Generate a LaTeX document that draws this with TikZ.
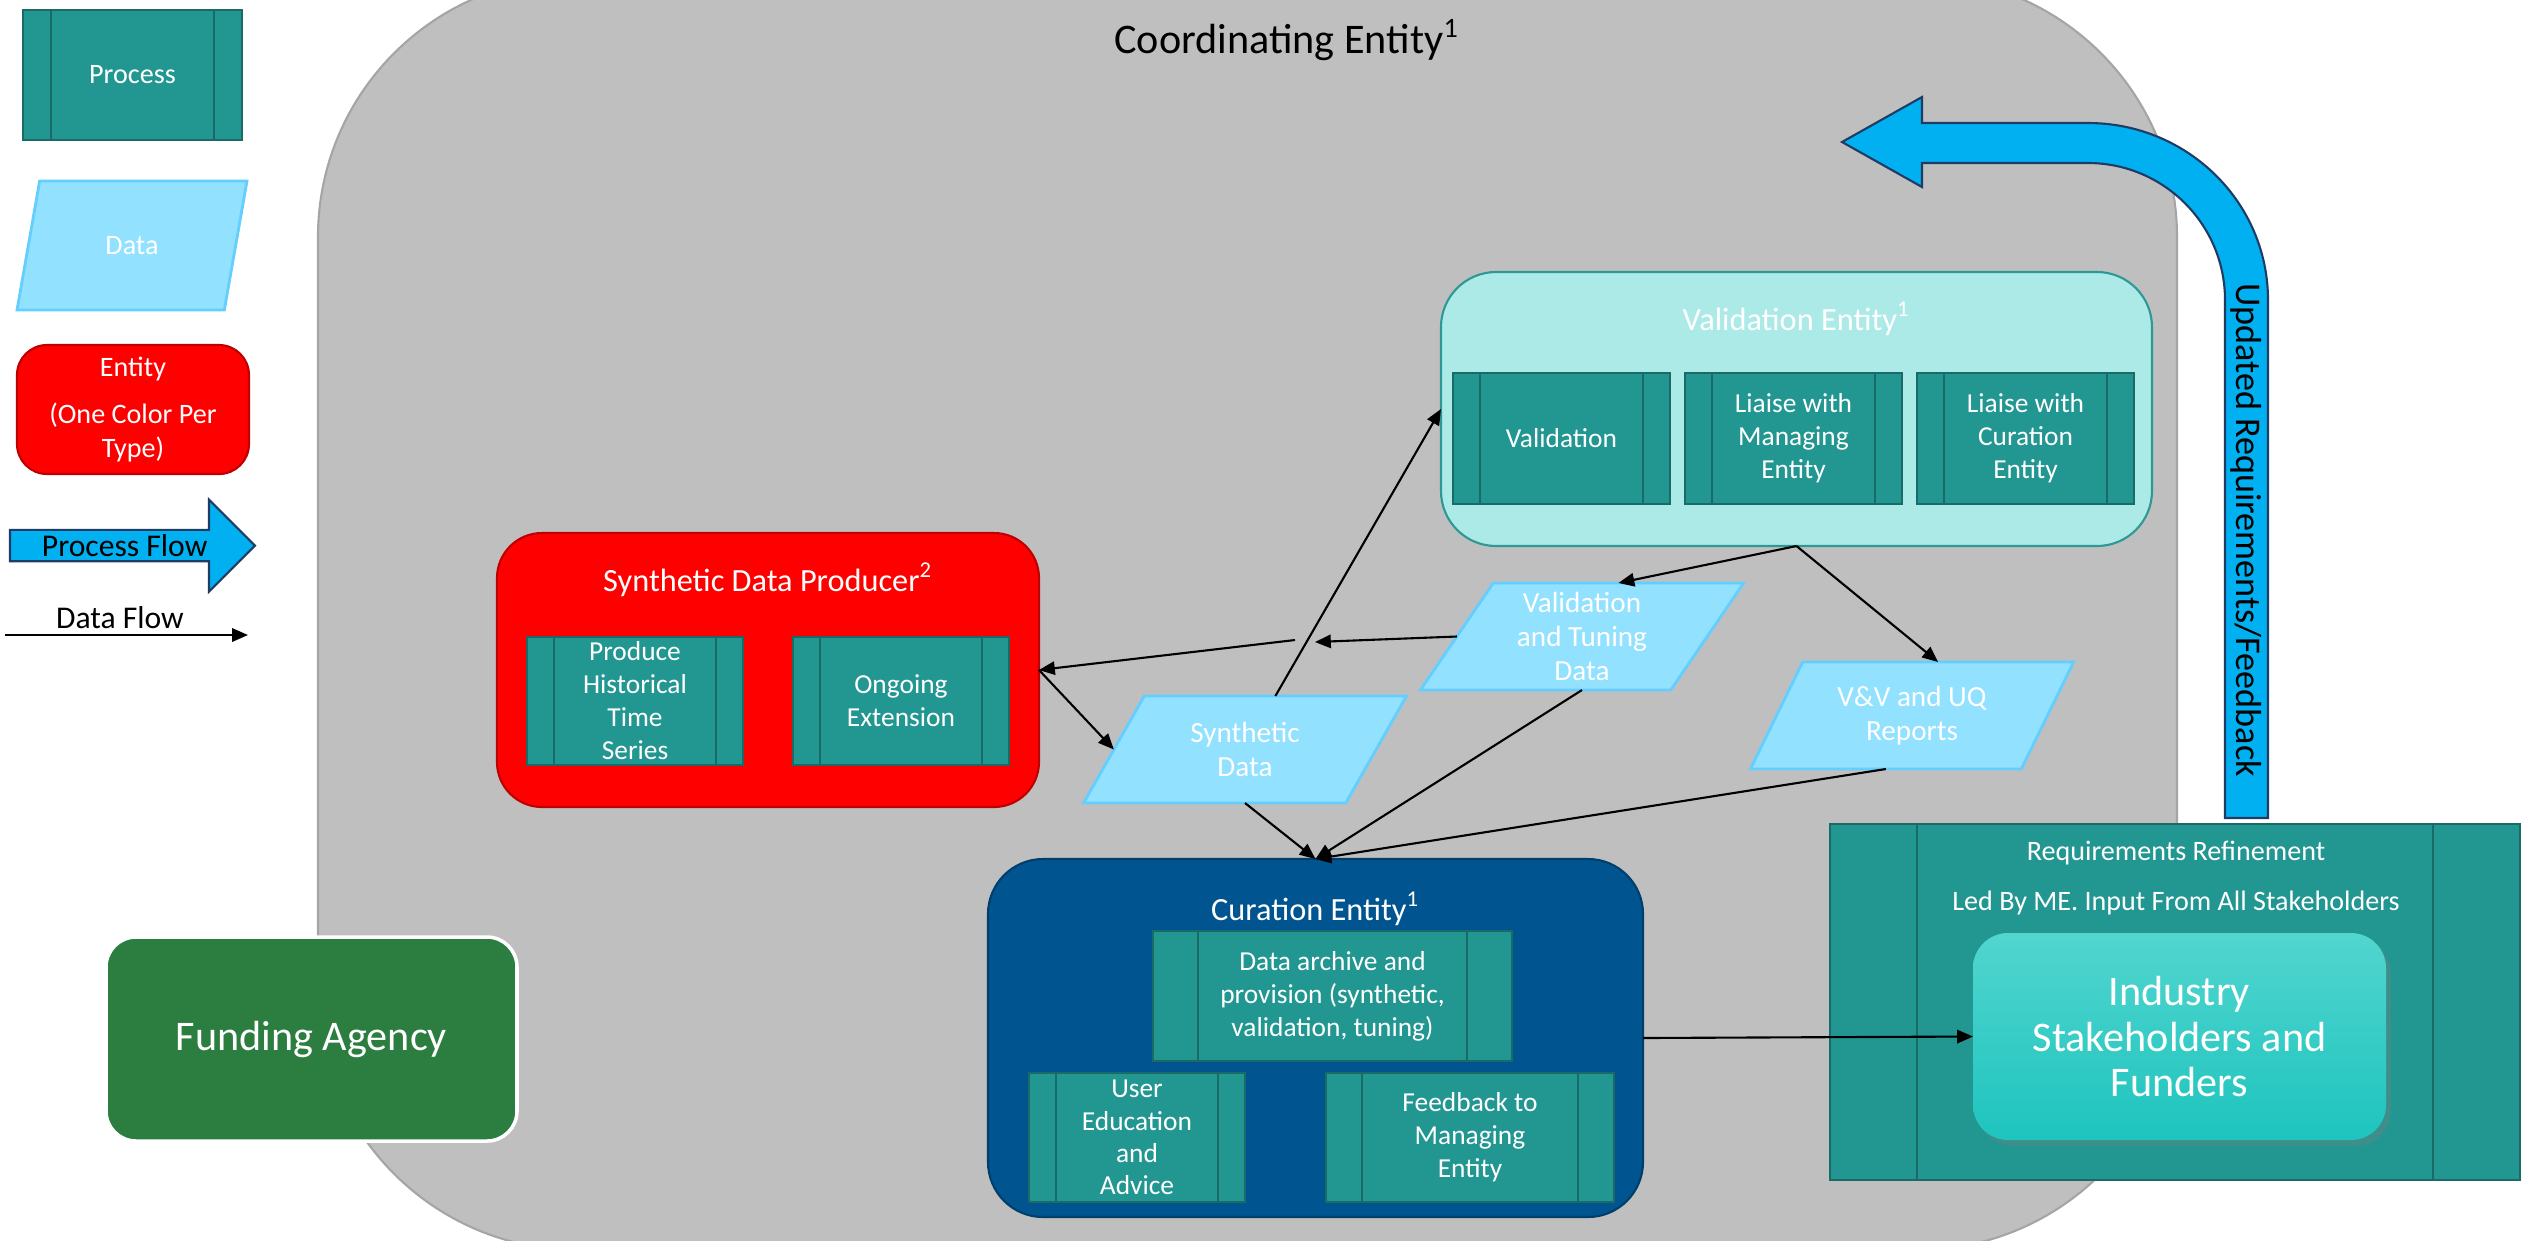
\documentclass[tikz,border=0pt]{standalone}
\usepackage{fontspec}
\setmainfont{Carlito}
\usetikzlibrary{positioning,calc,shapes.geometric,shapes.arrows,arrows.meta,shadows}
\definecolor{coordfill}{RGB}{191,191,191}
\definecolor{coordedge}{RGB}{165,165,165}
\definecolor{procfill}{RGB}{34,150,145}
\definecolor{procedge}{RGB}{26,106,104}
\definecolor{datafill}{RGB}{146,225,255}
\definecolor{dataedge}{RGB}{100,206,255}
\definecolor{prodred}{RGB}{255,0,0}
\definecolor{valfill}{RGB}{172,234,232}
\definecolor{valedge}{RGB}{46,152,149}
\definecolor{curfill}{RGB}{0,84,144}
\definecolor{fundgreen}{RGB}{43,125,64}
\definecolor{flowblue}{RGB}{0,176,240}
\definecolor{flowedge}{RGB}{30,60,100}
\definecolor{indtop}{RGB}{82,213,207}
\definecolor{indbot}{RGB}{30,196,190}
\newcommand\proctext{\fontsize{7.8pt}{9.4pt}\selectfont}
\newcommand\datatext{\fontsize{8.3pt}{9.6pt}\selectfont}
\newcommand\legtext{\fontsize{8pt}{9.6pt}\selectfont}
\newcommand\titletext{\fontsize{9.2pt}{11pt}\selectfont}
\newcommand\flowtext{\fontsize{9pt}{11pt}\selectfont}
\newcommand\bigtext{\fontsize{12pt}{13pt}\selectfont}

\begin{document}
\begin{tikzpicture}[every node/.style={inner sep=0pt, outer sep=0pt},
  process/.style={draw=procedge, fill=procfill, line width=0.6pt, text=white, align=center, font=\proctext,
    path picture={\draw[procedge, line width=0.6pt]
      ([xshift=#1]path picture bounding box.north west) -- ([xshift=#1]path picture bounding box.south west)
      ([xshift=-#1]path picture bounding box.north east) -- ([xshift=-#1]path picture bounding box.south east);}},
  process/.default=2.7mm,
  data/.style={trapezium, trapezium left angle=58.7, trapezium right angle=121.3, trapezium stretches=true,
    draw=dataedge, fill=datafill, line width=0.8pt, text=white, align=center, font=\datatext,
    minimum width=32.4mm, minimum height=10.7mm},
  entity/.style={draw=#1!75!black, fill=#1, line width=0.6pt, rounded corners=5.5mm},
  enttitle/.style={text=white, font=\titletext},
  flow/.style={-{Triangle[length=4.5pt,width=3.8pt]}, line width=0.6pt},
  bigflow/.style={draw=flowedge, fill=flowblue, line width=0.6pt}]
  \useasboundingbox (0,0) rectangle (25.22,-12.40);
  \clip (0,0) rectangle (25.22,-12.40);
  \node[draw=coordedge, fill=coordfill, line width=0.6pt, rounded corners=26mm,
    minimum width=185.9mm, minimum height=127.3mm] (coord) at (12.475,-6.135) {};
  \node[font=\bigtext] (coordt) at (12.87,-0.40) {Coordinating Entity\textsuperscript{1}};

  \node[process=2.8mm, minimum width=21.9mm, minimum height=13mm, font=\legtext] (lgproc) at (1.325,-0.75) {Process};
  \node[data, trapezium left angle=70.4, trapezium right angle=109.6, minimum width=23mm, minimum height=12.9mm,
    font=\legtext] (lgdata) at (1.32,-2.455) {Data};
  \node[entity=prodred, rounded corners=3mm, minimum width=23.2mm, minimum height=12.9mm, text=white,
    align=center, font=\legtext] (lgent) at (1.33,-4.095) {Entity\\[1.3mm](One Color Per\\Type)};
  \node[single arrow, bigflow, single arrow head extend=2.35mm, single arrow tip angle=90,
    single arrow head indent=0pt, minimum height=24.5mm, minimum width=9.2mm, anchor=tail,
    font=\flowtext] (lgflow) at (0.10,-5.455) {Process Flow};
  \node[font=\flowtext] (lgdflow) at (1.20,-6.18) {Data Flow};
  \coordinate (lgA) at (0.05,-6.35);
  \coordinate (lgB) at (2.48,-6.35);
  \draw[flow] (lgA) -- (lgB);

  \draw[bigflow] (22.25,-8.18) -- (22.25,-3.00) arc[start angle=0, end angle=90, radius=1.37]
    -- (19.22,-1.63) -- (19.22,-1.87) -- (18.42,-1.42) -- (19.22,-0.97) -- (19.22,-1.23) -- (20.88,-1.23)
    arc[start angle=90, end angle=0, x radius=1.80, y radius=1.77] -- (22.68,-8.18) -- cycle;
  \node[rotate=-90, font=\fontsize{10.3pt}{12pt}\selectfont] (updfb) at (22.465,-5.30) {Updated Requirements/Feedback};

  \node[entity=prodred, rounded corners=4.5mm, minimum width=54.2mm, minimum height=27.4mm] (sdp) at (7.68,-6.70) {};
  \node[enttitle] (sdpt) [below=3mm of sdp.north] {Synthetic Data Producer\textsuperscript{2}};
  \node[process, minimum width=21.6mm, minimum height=12.8mm] (hist) at (6.35,-7.01) {Produce\\Historical\\Time\\Series};
  \node[process, minimum width=21.6mm, minimum height=12.8mm] (ongo) [right=5mm of hist] {Ongoing\\Extension};

  \node[entity=valfill, draw=valedge, minimum width=71.1mm, minimum height=27.4mm] (val) at (17.965,-4.09) {};
  \node[enttitle] (valt) [below=3mm of val.north] {Validation Entity\textsuperscript{1}};
  \node[process, minimum width=21.7mm, minimum height=13.1mm] (valid) at (15.615,-4.385) {Validation};
  \node[process, minimum width=21.7mm, minimum height=13.1mm] (liaiseme) [right=1.5mm of valid] {Liaise with\\Managing\\Entity};
  \node[process, minimum width=21.7mm, minimum height=13.1mm] (liaisece) [right=1.5mm of liaiseme] {Liaise with\\Curation\\Entity};

  \node[entity=curfill, minimum width=65.5mm, minimum height=35.8mm] (cur) at (13.155,-10.38) {};
  \node[enttitle] (curt) [below=3.3mm of cur.north] {Curation Entity\textsuperscript{1}};
  \node[process=4.5mm, minimum width=35.9mm, minimum height=13mm] (archive) at (13.325,-9.96) {Data archive and\\provision (synthetic,\\validation, tuning)};
  \node[process, minimum width=21.6mm, minimum height=12.9mm, font=\fontsize{7.8pt}{9.2pt}\selectfont] (educ) at (11.37,-11.375) {User\\Education\\and\\Advice};
  \node[process=3.6mm, minimum width=28.8mm, minimum height=12.9mm] (fback) at (14.70,-11.375) {Feedback to\\Managing\\Entity};

  \node[draw=white, line width=1pt, fill=fundgreen, rounded corners=3mm, minimum width=41.1mm, minimum height=20.4mm,
    text=white, font=\bigtext] (fund) at (3.115,-10.39) {Funding Agency};

  \node[process=8.7mm, minimum width=69mm, minimum height=35.6mm] (reqref) at (21.75,-10.02) {};
  \node[text=white, font=\legtext] (reqt) at (21.76,-8.53) {Requirements Refinement};
  \node[text=white, font=\legtext] (reqled) at (21.76,-9.03) {Led By ME.\ Input From All Stakeholders};
  \node[rounded corners=3.5mm, top color=indtop, bottom color=indbot,
    drop shadow={opacity=0.3, shadow xshift=0.5mm, shadow yshift=-0.6mm},
    minimum width=41.3mm, minimum height=20.7mm, text=white, align=center, font=\bigtext] (ind) at (21.795,-10.365) {Industry\\Stakeholders and\\Funders};

  \node[data] (vtd) at (15.82,-6.365) {Validation\\and Tuning\\Data};
  \node[data] (vvuq) at (19.12,-7.155) {V\&V and UQ\\Reports};
  \node[data] (synd) at (12.45,-7.495) {Synthetic\\Data};

  \coordinate (hopR) at (13.15,-6.42);
  \coordinate (hopL) at (12.95,-6.40);
  \draw[flow] (synd.top side) -- (val.west);
  \draw[flow] (vtd.left side) -- (hopR);
  \draw[flow] (hopL) -- (sdp.east);
  \draw[flow] (sdp.east) -- (synd.left side);
  \draw[flow] (synd.south) -- (cur.north);
  \draw[flow] (vtd.south) -- (cur.north);
  \draw[flow] (vvuq.bottom side) -- (cur.north);
  \draw[flow] (val.south) -- (vtd.top side);
  \draw[flow] (val.south) -- (vvuq.top side);
  \draw[flow] (cur.east) -- (ind.west);
\end{tikzpicture}
\end{document}
